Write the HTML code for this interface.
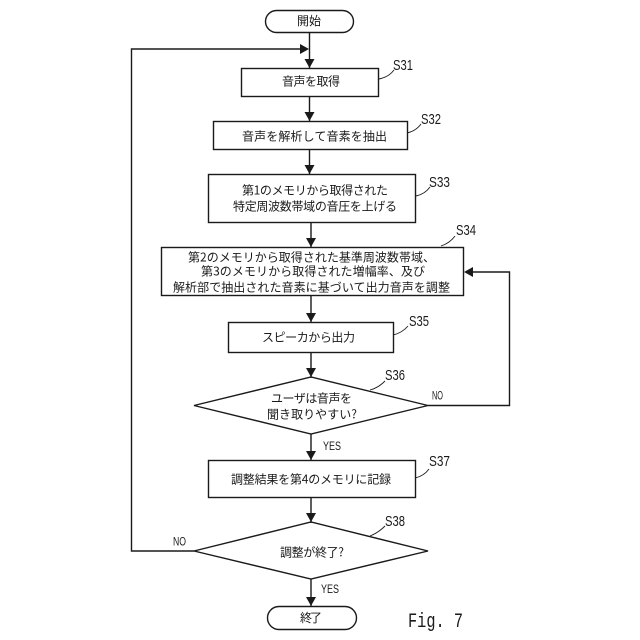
<!DOCTYPE html>
<html><head><meta charset="utf-8"><style>
html,body{margin:0;padding:0;background:#fff}
svg{display:block}
text{fill:#1a1a1a}
.t{font-size:12px;font-family:"Noto Sans CJK JP",sans-serif}
.s{font-size:15px;font-family:"Liberation Sans",sans-serif}
.l{font-size:12px;font-family:"Liberation Sans",sans-serif}
</style></head><body>
<svg width="640" height="640" viewBox="0 0 640 640" xmlns="http://www.w3.org/2000/svg">
<g fill="none" stroke="#1a1a1a" stroke-width="1.4">
<rect x="265.500" y="10.500" width="88" height="22" rx="11"/>
<rect x="241.500" y="68.500" width="137" height="28"/>
<rect x="213.500" y="121.500" width="194" height="28"/>
<rect x="208.500" y="174.500" width="207" height="48"/>
<rect x="161.500" y="247.500" width="302" height="48"/>
<rect x="228.500" y="322.500" width="165" height="30"/>
<path d="M194 405.500L311 377L428 405.500L311 434Z"/>
<rect x="208.500" y="460.500" width="207" height="37"/>
<path d="M194 551L311 522L428 551L311 579Z"/>
<rect x="267.500" y="606.500" width="89" height="23" rx="11.500"/>
<path d="M309.500 33V69M309.500 97V122M309.500 150V175M311 223V248M311 296V323M311 353V378M311 434V461M311 498V523M311 579V607"/>
<path d="M194 551H131.500V49H300"/>
<path d="M428 405.500H509.500V272H470"/>
<path stroke-width="0.9" d="M379 79Q389 77 394 70M407 133Q416 131 421 124M416 196Q425 194 430 187M441 246Q450 243 455 236M393 335Q402 333 408 326M370 390Q378 388 385 381M415 478Q424 476 429 469M370 536Q378 533 385 526"/>
</g>
<g fill="#1a1a1a">
<path d="M304.500 59H314.500L309.500 68Z"/>
<path d="M304.500 112H314.500L309.500 121Z"/>
<path d="M304.500 165H314.500L309.500 174Z"/>
<path d="M306 238H316L311 247Z"/>
<path d="M306 313H316L311 322Z"/>
<path d="M306 368H316L311 377Z"/>
<path d="M306 451H316L311 460Z"/>
<path d="M306 513H316L311 522Z"/>
<path d="M306 597H316L311 606Z"/>
<path d="M300 44V54L309 49Z"/>
<path d="M464 272L473 267V277Z"/>
</g>
<text class="t" x="297" y="25" textLength="24">開始</text>
<text class="t" x="282" y="85.500" textLength="58">音声を取得</text>
<text class="t" x="242" y="140.500" textLength="145">音声を解析して音素を抽出</text>
<text class="t" x="242" y="194.500" textLength="146">第1のメモリから取得された</text>
<text class="t" x="233" y="210.500" textLength="164">特定周波数帯域の音圧を上げる</text>
<text class="t" x="188" y="261.500" textLength="247">第2のメモリから取得された基準周波数帯域、</text>
<text class="t" x="201" y="275.500" textLength="224">第3のメモリから取得された増幅率、及び</text>
<text class="t" x="173" y="291.500" textLength="277">解析部で抽出された音素に基づいて出力音声を調整</text>
<text class="t" x="262" y="341.500" textLength="93">スピーカから出力</text>
<text class="t" x="271" y="402.500" textLength="81">ユーザは音声を</text>
<text class="t" x="267" y="418.500" textLength="90">聞き取りやすい?</text>
<text class="t" x="231" y="483.500" textLength="160">調整結果を第4のメモリに記録</text>
<text class="t" x="280" y="556.500" textLength="64">調整が終了?</text>
<text class="t" x="300" y="622" textLength="22">終了</text>
<text class="s" x="393" y="70" textLength="20" lengthAdjust="spacingAndGlyphs">S31</text>
<text class="s" x="421" y="124" textLength="20" lengthAdjust="spacingAndGlyphs">S32</text>
<text class="s" x="429" y="187" textLength="21" lengthAdjust="spacingAndGlyphs">S33</text>
<text class="s" x="456" y="235" textLength="20" lengthAdjust="spacingAndGlyphs">S34</text>
<text class="s" x="409" y="326" textLength="20" lengthAdjust="spacingAndGlyphs">S35</text>
<text class="s" x="385" y="380" textLength="20" lengthAdjust="spacingAndGlyphs">S36</text>
<text class="s" x="429" y="466" textLength="21" lengthAdjust="spacingAndGlyphs">S37</text>
<text class="s" x="385" y="526" textLength="20" lengthAdjust="spacingAndGlyphs">S38</text>
<text class="l" x="432" y="399.500" textLength="11" lengthAdjust="spacingAndGlyphs">NO</text>
<text class="l" x="173" y="545.500" textLength="13" lengthAdjust="spacingAndGlyphs">NO</text>
<text class="l" x="323" y="450" textLength="18" lengthAdjust="spacingAndGlyphs">YES</text>
<text class="l" x="321" y="593" textLength="18" lengthAdjust="spacingAndGlyphs">YES</text>
<text x="408" y="627" textLength="55" lengthAdjust="spacingAndGlyphs" style="font-family:'Liberation Mono',monospace;font-size:20px">Fig. 7</text>
</svg>
</body></html>
